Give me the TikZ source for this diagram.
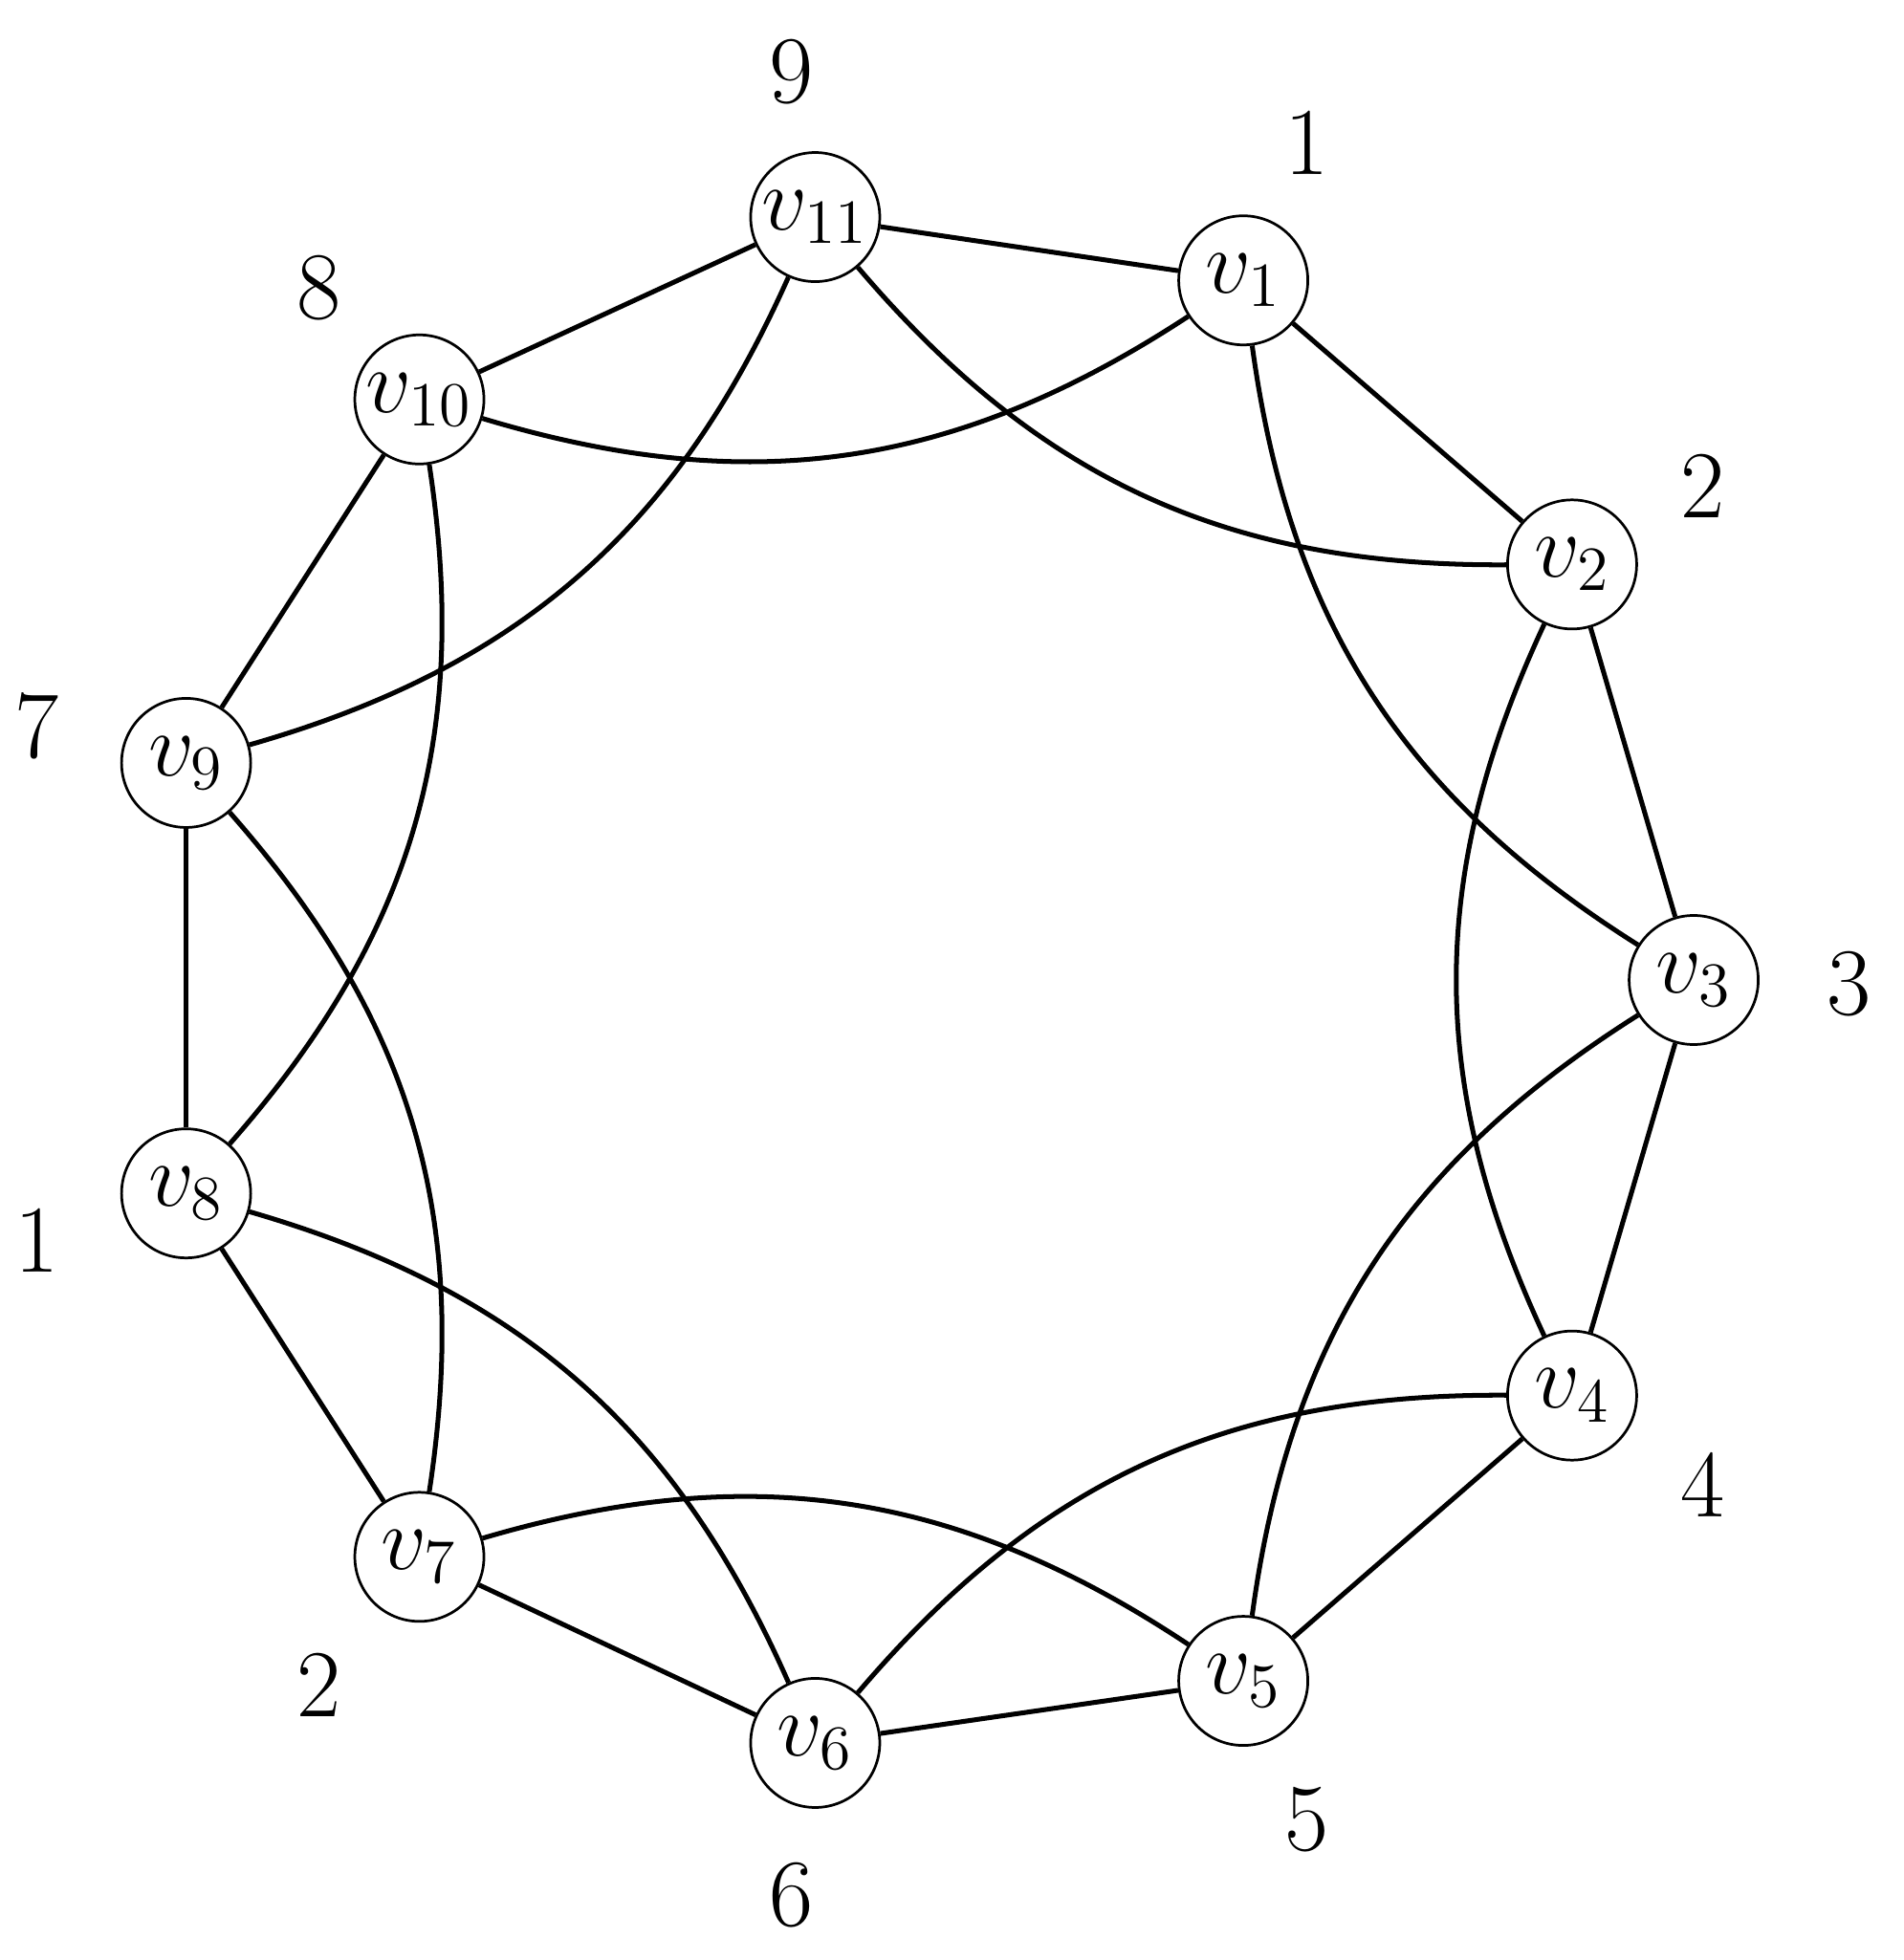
\documentclass[tikz,border=0pt]{standalone}
\begin{document}
\begin{tikzpicture}[x=0.01cm,y=-0.01cm,
  vtx/.style={circle,draw,line width=0.6pt,minimum size=1.04cm,inner sep=0pt,font=\fontsize{22}{26}\selectfont},
  lbl/.style={font=\fontsize{22}{26}\selectfont},
  edge/.style={line width=1.1pt}]
\useasboundingbox (0,0) rectangle (1534,1580);
\node[vtx] (v1) at (1002,226) {$v_1$};
\node[vtx] (v2) at (1267,455) {$v_2$};
\node[vtx] (v3) at (1365,790) {$v_3$};
\node[vtx] (v4) at (1267,1125) {$v_4$};
\node[vtx] (v5) at (1002,1355) {$v_5$};
\node[vtx] (v6) at (657,1405) {$v_6$};
\node[vtx] (v7) at (338,1255) {$v_7$};
\node[vtx] (v8) at (150,962) {$v_8$};
\node[vtx] (v9) at (150,615) {$v_9$};
\node[vtx] (v10) at (338,322) {$v_{10}$};
\node[vtx] (v11) at (657,175) {$v_{11}$};
\node[lbl] (l1) at (1053,115) {1};
\node[lbl] (l2) at (1372,392) {2};
\node[lbl] (l3) at (1490,793) {3};
\node[lbl] (l4) at (1372,1197) {4};
\node[lbl] (l5) at (1053,1467) {5};
\node[lbl] (l6) at (638,1528) {6};
\node[lbl] (l7) at (257,1358) {2};
\node[lbl] (l8) at (30,1000) {1};
\node[lbl] (l9) at (30,585) {7};
\node[lbl] (l10) at (257,232) {8};
\node[lbl] (l11) at (638,58) {9};
\foreach \a/\b in {1/2,2/3,3/4,4/5,5/6,6/7,7/8,8/9,9/10,10/11,11/1}
  \draw[edge] (v\a) -- (v\b);
\foreach \a/\b in {1/3,2/4,3/5,4/6,5/7,6/8,7/9,8/10,9/11,10/1,11/2}
  \draw[edge] (v\a) to[bend right=25] (v\b);
\end{tikzpicture}
\end{document}
